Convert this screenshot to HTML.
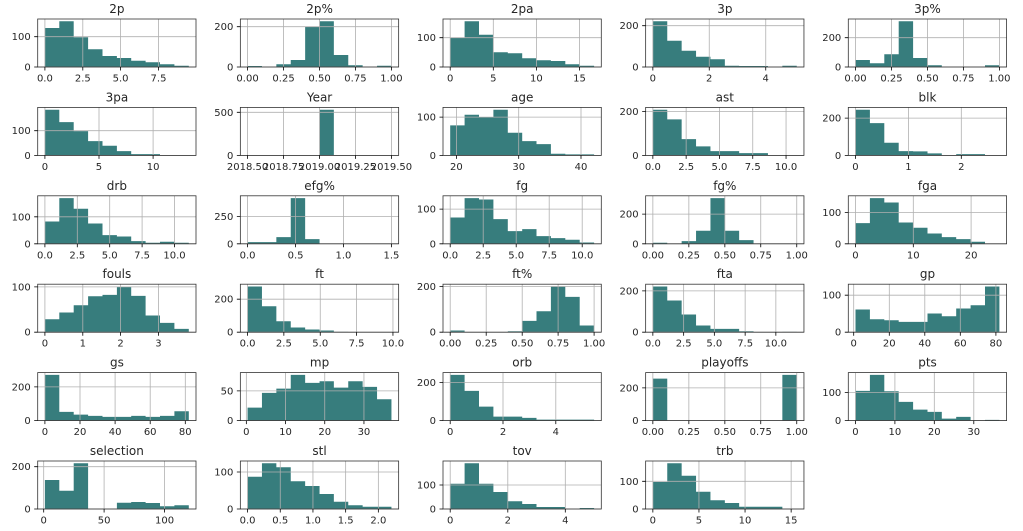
<!DOCTYPE html>
<html><head><meta charset="utf-8"><style>
html,body{margin:0;padding:0;background:#fff}
svg{display:block}
.b{fill:#377d7d}
.g{stroke:#b0b0b0;stroke-width:.8;fill:none}
.s{fill:none;stroke:#333;stroke-width:.8}
.t{stroke:#000;stroke-width:.8;fill:none}
text{font-family:"DejaVu Sans","Liberation Sans",sans-serif;fill:#262626}
.tt{font-size:12px;text-anchor:middle}
.xl{font-size:10px;text-anchor:middle}
.yl{font-size:10px;text-anchor:end}
</style></head><body>
<svg width="1023" height="531" viewBox="0 0 1023 531" xmlns="http://www.w3.org/2000/svg">
<rect width="1023" height="531" fill="#fff"/>

<!-- Row 0 -->
<g transform="translate(37.7,19)">
<path class="b" d="M7.2 48V9H21.6V2.3H36V18.3H50.4V30.3H64.8V37H79.2V39H93.5V41.7H107.9V43.3H122.3V45.3H136.7V46.7H151.1V48Z"/>
<path class="g" d="M7.2 0V48M45.1 0V48M82.9 0V48M120.8 0V48M0 48H158.3M0 17.7H158.3"/>
<rect class="s" width="158.3" height="48"/>
<path class="t" d="M7.2 48v3.5M45.1 48v3.5M82.9 48v3.5M120.8 48v3.5M0 48h-3.5M0 17.7h-3.5"/>
<text class="tt" x="79.2" y="-6">2p</text>
<text class="xl" y="62.5"><tspan x="7.2">0.0</tspan><tspan x="45.1">2.5</tspan><tspan x="82.9">5.0</tspan><tspan x="120.8">7.5</tspan></text>
<text class="yl"><tspan x="-7" y="51.5">0</tspan><tspan x="-7" y="21.2">100</tspan></text>
</g>

<g transform="translate(240.35,19)">
<path class="b" d="M7.2 48V47H21.6V48H36V45.3H50.4V41H64.8V8H79.2V2.3H93.5V36H107.9V46.3H122.3V48H136.7V46.7H151.1V48Z"/>
<path class="g" d="M7.2 0V48M43.2 0V48M79.2 0V48M115.1 0V48M151.1 0V48M0 48H158.3M0 7.7H158.3"/>
<rect class="s" width="158.3" height="48"/>
<path class="t" d="M7.2 48v3.5M43.2 48v3.5M79.2 48v3.5M115.1 48v3.5M151.1 48v3.5M0 48h-3.5M0 7.7h-3.5"/>
<text class="tt" x="79.2" y="-6">2p%</text>
<text class="xl" y="62.5"><tspan x="7.2">0.00</tspan><tspan x="43.2">0.25</tspan><tspan x="79.2">0.50</tspan><tspan x="115.1">0.75</tspan><tspan x="151.1">1.00</tspan></text>
<text class="yl"><tspan x="-7" y="51.5">0</tspan><tspan x="-7" y="11.2">200</tspan></text>
</g>

<g transform="translate(443,19)">
<path class="b" d="M7.2 48V18.7H21.6V2.3H36V15.7H50.4V33.3H64.8V34.3H79.2V39.3H93.5V41.3H107.9V42H122.3V45.3H136.7V46.7H151.1V48Z"/>
<path class="g" d="M7.2 0V48M50.3 0V48M93.4 0V48M136.5 0V48M0 48H158.3M0 18.7H158.3"/>
<rect class="s" width="158.3" height="48"/>
<path class="t" d="M7.2 48v3.5M50.3 48v3.5M93.4 48v3.5M136.5 48v3.5M0 48h-3.5M0 18.7h-3.5"/>
<text class="tt" x="79.2" y="-6">2pa</text>
<text class="xl" y="62.5"><tspan x="7.2">0</tspan><tspan x="50.3">5</tspan><tspan x="93.4">10</tspan><tspan x="136.5">15</tspan></text>
<text class="yl"><tspan x="-7" y="51.5">0</tspan><tspan x="-7" y="22.2">100</tspan></text>
</g>

<g transform="translate(645.65,19)">
<path class="b" d="M7.2 48V2.3H21.6V21.7H36V31.7H50.4V37.7H64.8V40.3H79.2V46.7H93.5V47H107.9V47H122.3V48H136.7V46.7H151.1V48Z"/>
<path class="g" d="M7.2 0V48M63.6 0V48M120.1 0V48M0 48H158.3M0 6.7H158.3"/>
<rect class="s" width="158.3" height="48"/>
<path class="t" d="M7.2 48v3.5M63.6 48v3.5M120.1 48v3.5M0 48h-3.5M0 6.7h-3.5"/>
<text class="tt" x="79.2" y="-6">3p</text>
<text class="xl" y="62.5"><tspan x="7.2">0</tspan><tspan x="63.6">2</tspan><tspan x="120.1">4</tspan></text>
<text class="yl"><tspan x="-7" y="51.5">0</tspan><tspan x="-7" y="10.2">200</tspan></text>
</g>

<g transform="translate(848.3,19)">
<path class="b" d="M7.2 48V41H21.6V44.3H36V35.3H50.4V2.3H64.8V39H79.2V46.3H93.5V48H107.9V48H122.3V48H136.7V46.3H151.1V48Z"/>
<path class="g" d="M7.2 0V48M43.2 0V48M79.2 0V48M115.1 0V48M151.1 0V48M0 48H158.3M0 18.7H158.3"/>
<rect class="s" width="158.3" height="48"/>
<path class="t" d="M7.2 48v3.5M43.2 48v3.5M79.2 48v3.5M115.1 48v3.5M151.1 48v3.5M0 48h-3.5M0 18.7h-3.5"/>
<text class="tt" x="79.2" y="-6">3p%</text>
<text class="xl" y="62.5"><tspan x="7.2">0.00</tspan><tspan x="43.2">0.25</tspan><tspan x="79.2">0.50</tspan><tspan x="115.1">0.75</tspan><tspan x="151.1">1.00</tspan></text>
<text class="yl"><tspan x="-7" y="51.5">0</tspan><tspan x="-7" y="22.2">200</tspan></text>
</g>

<!-- Row 1 -->
<g transform="translate(37.7,107.4)">
<path class="b" d="M7.2 48V2.3H21.6V14.7H36V23.7H50.4V33.7H64.8V38.3H79.2V43.7H93.5V46.7H107.9V46.7H122.3V48H136.7V47.7H151.1V48Z"/>
<path class="g" d="M7.2 0V48M61.3 0V48M115.4 0V48M0 48H158.3M0 23.3H158.3"/>
<rect class="s" width="158.3" height="48"/>
<path class="t" d="M7.2 48v3.5M61.3 48v3.5M115.4 48v3.5M0 48h-3.5M0 23.3h-3.5"/>
<text class="tt" x="79.2" y="-6">3pa</text>
<text class="xl" y="62.5"><tspan x="7.2">0</tspan><tspan x="61.3">5</tspan><tspan x="115.4">10</tspan></text>
<text class="yl"><tspan x="-7" y="51.5">0</tspan><tspan x="-7" y="26.8">100</tspan></text>
</g>

<g transform="translate(240.35,107.4)">
<path class="b" d="M79.2 48V2.3H93.5V48Z"/>
<path class="g" d="M7.2 0V48M43.2 0V48M79.2 0V48M115.1 0V48M151.1 0V48M0 48H158.3M0 4.9H158.3"/>
<rect class="s" width="158.3" height="48"/>
<path class="t" d="M7.2 48v3.5M43.2 48v3.5M79.2 48v3.5M115.1 48v3.5M151.1 48v3.5M0 48h-3.5M0 4.9h-3.5"/>
<text class="tt" x="79.2" y="-6">Year</text>
<text class="xl" y="62.5"><tspan x="7.2">2018.50</tspan><tspan x="43.2">2018.75</tspan><tspan x="79.2">2019.00</tspan><tspan x="115.1">2019.25</tspan><tspan x="151.1">2019.50</tspan></text>
<text class="yl"><tspan x="-7" y="51.5">0</tspan><tspan x="-7" y="8.4">500</tspan></text>
</g>

<g transform="translate(443,107.4)">
<path class="b" d="M7.2 48V18H21.6V7.3H36V9.7H50.4V2.3H64.8V25.3H79.2V33.7H93.5V36.7H107.9V46.3H122.3V47H136.7V47H151.1V48Z"/>
<path class="g" d="M13.4 0V48M75.7 0V48M138 0V48M0 48H158.3M0 9.7H158.3"/>
<rect class="s" width="158.3" height="48"/>
<path class="t" d="M13.4 48v3.5M75.7 48v3.5M138 48v3.5M0 48h-3.5M0 9.7h-3.5"/>
<text class="tt" x="79.2" y="-6">age</text>
<text class="xl" y="62.5"><tspan x="13.4">20</tspan><tspan x="75.7">30</tspan><tspan x="138">40</tspan></text>
<text class="yl"><tspan x="-7" y="51.5">0</tspan><tspan x="-7" y="13.2">100</tspan></text>
</g>

<g transform="translate(645.65,107.4)">
<path class="b" d="M7.2 48V2.3H21.6V12H36V31.7H50.4V39H64.8V43.7H79.2V43.7H93.5V45.7H107.9V45.7H122.3V48H136.7V47.7H151.1V48Z"/>
<path class="g" d="M7.2 0V48M40.5 0V48M73.8 0V48M107.1 0V48M140.4 0V48M0 48H158.3M0 4H158.3"/>
<rect class="s" width="158.3" height="48"/>
<path class="t" d="M7.2 48v3.5M40.5 48v3.5M73.8 48v3.5M107.1 48v3.5M140.4 48v3.5M0 48h-3.5M0 4h-3.5"/>
<text class="tt" x="79.2" y="-6">ast</text>
<text class="xl" y="62.5"><tspan x="7.2">0.0</tspan><tspan x="40.5">2.5</tspan><tspan x="73.8">5.0</tspan><tspan x="107.1">7.5</tspan><tspan x="140.4">10.0</tspan></text>
<text class="yl"><tspan x="-7" y="51.5">0</tspan><tspan x="-7" y="7.5">200</tspan></text>
</g>

<g transform="translate(848.3,107.4)">
<path class="b" d="M7.2 48V2.3H21.6V15.7H36V35.3H50.4V43.7H64.8V44H79.2V46H93.5V48H107.9V46.7H122.3V46.7H136.7V48H151.1V48Z"/>
<path class="g" d="M7.2 0V48M60.1 0V48M113 0V48M0 48H158.3M0 10.7H158.3"/>
<rect class="s" width="158.3" height="48"/>
<path class="t" d="M7.2 48v3.5M60.1 48v3.5M113 48v3.5M0 48h-3.5M0 10.7h-3.5"/>
<text class="tt" x="79.2" y="-6">blk</text>
<text class="xl" y="62.5"><tspan x="7.2">0</tspan><tspan x="60.1">1</tspan><tspan x="113">2</tspan></text>
<text class="yl"><tspan x="-7" y="51.5">0</tspan><tspan x="-7" y="14.2">200</tspan></text>
</g>

<!-- Row 2 -->
<g transform="translate(37.7,195.8)">
<path class="b" d="M7.2 48V25.7H21.6V2.3H36V13H50.4V27.7H64.8V39.3H79.2V40.7H93.5V45.3H107.9V47H122.3V46H136.7V47H151.1V48Z"/>
<path class="g" d="M7.2 0V48M39.6 0V48M72 0V48M104.4 0V48M136.8 0V48M0 48H158.3M0 21H158.3"/>
<rect class="s" width="158.3" height="48"/>
<path class="t" d="M7.2 48v3.5M39.6 48v3.5M72 48v3.5M104.4 48v3.5M136.8 48v3.5M0 48h-3.5M0 21h-3.5"/>
<text class="tt" x="79.2" y="-6">drb</text>
<text class="xl" y="62.5"><tspan x="7.2">0.0</tspan><tspan x="39.6">2.5</tspan><tspan x="72">5.0</tspan><tspan x="104.4">7.5</tspan><tspan x="136.8">10.0</tspan></text>
<text class="yl"><tspan x="-7" y="51.5">0</tspan><tspan x="-7" y="24.5">100</tspan></text>
</g>

<g transform="translate(240.35,195.8)">
<path class="b" d="M7.2 48V46.3H21.6V46.3H36V41.3H50.4V2.3H64.8V43.3H79.2V48H93.5V48H107.9V48H122.3V48H136.7V47.7H151.1V48Z"/>
<path class="g" d="M7.2 0V48M55.2 0V48M103.1 0V48M151.1 0V48M0 48H158.3M0 20.7H158.3"/>
<rect class="s" width="158.3" height="48"/>
<path class="t" d="M7.2 48v3.5M55.2 48v3.5M103.1 48v3.5M151.1 48v3.5M0 48h-3.5M0 20.7h-3.5"/>
<text class="tt" x="79.2" y="-6">efg%</text>
<text class="xl" y="62.5"><tspan x="7.2">0.0</tspan><tspan x="55.2">0.5</tspan><tspan x="103.1">1.0</tspan><tspan x="151.1">1.5</tspan></text>
<text class="yl"><tspan x="-7" y="51.5">0</tspan><tspan x="-7" y="24.2">250</tspan></text>
</g>

<g transform="translate(443,195.8)">
<path class="b" d="M7.2 48V21.7H21.6V2.3H36V3.7H50.4V23.3H64.8V35.3H79.2V33.3H93.5V40.3H107.9V42.3H122.3V44H136.7V46.7H151.1V48Z"/>
<path class="g" d="M7.2 0V48M40.2 0V48M73.2 0V48M106.2 0V48M139.2 0V48M0 48H158.3M0 13.3H158.3"/>
<rect class="s" width="158.3" height="48"/>
<path class="t" d="M7.2 48v3.5M40.2 48v3.5M73.2 48v3.5M106.2 48v3.5M139.2 48v3.5M0 48h-3.5M0 13.3h-3.5"/>
<text class="tt" x="79.2" y="-6">fg</text>
<text class="xl" y="62.5"><tspan x="7.2">0.0</tspan><tspan x="40.2">2.5</tspan><tspan x="73.2">5.0</tspan><tspan x="106.2">7.5</tspan><tspan x="139.2">10.0</tspan></text>
<text class="yl"><tspan x="-7" y="51.5">0</tspan><tspan x="-7" y="16.8">100</tspan></text>
</g>

<g transform="translate(645.65,195.8)">
<path class="b" d="M7.2 48V47H21.6V48H36V45.3H50.4V35H64.8V2.3H79.2V35H93.5V44.3H107.9V48H122.3V48H136.7V48H151.1V48Z"/>
<path class="g" d="M7.2 0V48M43.2 0V48M79.2 0V48M115.1 0V48M151.1 0V48M0 48H158.3M0 18.3H158.3"/>
<rect class="s" width="158.3" height="48"/>
<path class="t" d="M7.2 48v3.5M43.2 48v3.5M79.2 48v3.5M115.1 48v3.5M151.1 48v3.5M0 48h-3.5M0 18.3h-3.5"/>
<text class="tt" x="79.2" y="-6">fg%</text>
<text class="xl" y="62.5"><tspan x="7.2">0.00</tspan><tspan x="43.2">0.25</tspan><tspan x="79.2">0.50</tspan><tspan x="115.1">0.75</tspan><tspan x="151.1">1.00</tspan></text>
<text class="yl"><tspan x="-7" y="51.5">0</tspan><tspan x="-7" y="21.8">200</tspan></text>
</g>

<g transform="translate(848.3,195.8)">
<path class="b" d="M7.2 48V27.3H21.6V2.3H36V6.7H50.4V26.7H64.8V32H79.2V37.7H93.5V41.3H107.9V43.3H122.3V46H136.7V48H151.1V48Z"/>
<path class="g" d="M7.2 0V48M65 0V48M122.8 0V48M0 48H158.3M0 16.7H158.3"/>
<rect class="s" width="158.3" height="48"/>
<path class="t" d="M7.2 48v3.5M65 48v3.5M122.8 48v3.5M0 48h-3.5M0 16.7h-3.5"/>
<text class="tt" x="79.2" y="-6">fga</text>
<text class="xl" y="62.5"><tspan x="7.2">0</tspan><tspan x="65">10</tspan><tspan x="122.8">20</tspan></text>
<text class="yl"><tspan x="-7" y="51.5">0</tspan><tspan x="-7" y="20.2">100</tspan></text>
</g>

<!-- Row 3 -->
<g transform="translate(37.7,284.2)">
<path class="b" d="M7.2 48V35H21.6V28.3H36V21H50.4V12H64.8V10.7H79.2V2.3H93.5V11.7H107.9V31.3H122.3V38.7H136.7V44.7H151.1V48Z"/>
<path class="g" d="M7.2 0V48M45.1 0V48M82.9 0V48M120.8 0V48M0 48H158.3M0 2.7H158.3"/>
<rect class="s" width="158.3" height="48"/>
<path class="t" d="M7.2 48v3.5M45.1 48v3.5M82.9 48v3.5M120.8 48v3.5M0 48h-3.5M0 2.7h-3.5"/>
<text class="tt" x="79.2" y="-6">fouls</text>
<text class="xl" y="62.5"><tspan x="7.2">0</tspan><tspan x="45.1">1</tspan><tspan x="82.9">2</tspan><tspan x="120.8">3</tspan></text>
<text class="yl"><tspan x="-7" y="51.5">0</tspan><tspan x="-7" y="6.2">100</tspan></text>
</g>

<g transform="translate(240.35,284.2)">
<path class="b" d="M7.2 48V2.3H21.6V22H36V37H50.4V43.3H64.8V45.3H79.2V46.3H93.5V47.7H107.9V48H122.3V48H136.7V48H151.1V48Z"/>
<path class="g" d="M7.2 0V48M43.5 0V48M79.9 0V48M116.2 0V48M152.6 0V48M0 48H158.3M0 15H158.3"/>
<rect class="s" width="158.3" height="48"/>
<path class="t" d="M7.2 48v3.5M43.5 48v3.5M79.9 48v3.5M116.2 48v3.5M152.6 48v3.5M0 48h-3.5M0 15h-3.5"/>
<text class="tt" x="79.2" y="-6">ft</text>
<text class="xl" y="62.5"><tspan x="7.2">0.0</tspan><tspan x="43.5">2.5</tspan><tspan x="79.9">5.0</tspan><tspan x="116.2">7.5</tspan><tspan x="152.6">10.0</tspan></text>
<text class="yl"><tspan x="-7" y="51.5">0</tspan><tspan x="-7" y="18.5">200</tspan></text>
</g>

<g transform="translate(443,284.2)">
<path class="b" d="M7.2 48V46.3H21.6V48H36V48H50.4V48H64.8V47H79.2V36.7H93.5V27H107.9V2.3H122.3V12.7H136.7V41.3H151.1V48Z"/>
<path class="g" d="M7.2 0V48M43.2 0V48M79.2 0V48M115.1 0V48M151.1 0V48M0 48H158.3M0 2.3H158.3"/>
<rect class="s" width="158.3" height="48"/>
<path class="t" d="M7.2 48v3.5M43.2 48v3.5M79.2 48v3.5M115.1 48v3.5M151.1 48v3.5M0 48h-3.5M0 2.3h-3.5"/>
<text class="tt" x="79.2" y="-6">ft%</text>
<text class="xl" y="62.5"><tspan x="7.2">0.00</tspan><tspan x="43.2">0.25</tspan><tspan x="79.2">0.50</tspan><tspan x="115.1">0.75</tspan><tspan x="151.1">1.00</tspan></text>
<text class="yl"><tspan x="-7" y="51.5">0</tspan><tspan x="-7" y="5.8">200</tspan></text>
</g>

<g transform="translate(645.65,284.2)">
<path class="b" d="M7.2 48V2.3H21.6V16.3H36V30.3H50.4V41.3H64.8V44.7H79.2V44.7H93.5V47H107.9V48H122.3V48H136.7V47.7H151.1V48Z"/>
<path class="g" d="M7.2 0V48M38 0V48M68.7 0V48M99.5 0V48M130.2 0V48M0 48H158.3M0 6.7H158.3"/>
<rect class="s" width="158.3" height="48"/>
<path class="t" d="M7.2 48v3.5M38 48v3.5M68.7 48v3.5M99.5 48v3.5M130.2 48v3.5M0 48h-3.5M0 6.7h-3.5"/>
<text class="tt" x="79.2" y="-6">fta</text>
<text class="xl" y="62.5"><tspan x="7.2">0.0</tspan><tspan x="38">2.5</tspan><tspan x="68.7">5.0</tspan><tspan x="99.5">7.5</tspan><tspan x="130.2">10.0</tspan></text>
<text class="yl"><tspan x="-7" y="51.5">0</tspan><tspan x="-7" y="10.2">200</tspan></text>
</g>

<g transform="translate(848.3,284.2)">
<path class="b" d="M7.2 48V25.3H21.6V35H36V36H50.4V37.7H64.8V37.7H79.2V29.3H93.5V32H107.9V24.3H122.3V21H136.7V2.3H151.1V48Z"/>
<path class="g" d="M5.4 0V48M41 0V48M76.5 0V48M112 0V48M147.6 0V48M0 48H158.3M0 11H158.3"/>
<rect class="s" width="158.3" height="48"/>
<path class="t" d="M5.4 48v3.5M41 48v3.5M76.5 48v3.5M112 48v3.5M147.6 48v3.5M0 48h-3.5M0 11h-3.5"/>
<text class="tt" x="79.2" y="-6">gp</text>
<text class="xl" y="62.5"><tspan x="5.4">0</tspan><tspan x="41">20</tspan><tspan x="76.5">40</tspan><tspan x="112">60</tspan><tspan x="147.6">80</tspan></text>
<text class="yl"><tspan x="-7" y="51.5">0</tspan><tspan x="-7" y="14.5">100</tspan></text>
</g>

<!-- Row 4 -->
<g transform="translate(37.7,372.6)">
<path class="b" d="M7.2 48V2.3H21.6V39.3H36V42H50.4V43.3H64.8V44.3H79.2V44.3H93.5V43.3H107.9V44.3H122.3V43.3H136.7V38.7H151.1V48Z"/>
<path class="g" d="M7.2 0V48M42.3 0V48M77.4 0V48M112.5 0V48M147.6 0V48M0 48H158.3M0 14.3H158.3"/>
<rect class="s" width="158.3" height="48"/>
<path class="t" d="M7.2 48v3.5M42.3 48v3.5M77.4 48v3.5M112.5 48v3.5M147.6 48v3.5M0 48h-3.5M0 14.3h-3.5"/>
<text class="tt" x="79.2" y="-6">gs</text>
<text class="xl" y="62.5"><tspan x="7.2">0</tspan><tspan x="42.3">20</tspan><tspan x="77.4">40</tspan><tspan x="112.5">60</tspan><tspan x="147.6">80</tspan></text>
<text class="yl"><tspan x="-7" y="51.5">0</tspan><tspan x="-7" y="17.8">200</tspan></text>
</g>

<g transform="translate(240.35,372.6)">
<path class="b" d="M7.2 48V35H21.6V20.3H36V16H50.4V2.3H64.8V10.3H79.2V8.7H93.5V15H107.9V8.7H122.3V14.3H136.7V26.7H151.1V48Z"/>
<path class="g" d="M6 0V48M45.2 0V48M84.4 0V48M123.6 0V48M0 48H158.3M0 18.3H158.3"/>
<rect class="s" width="158.3" height="48"/>
<path class="t" d="M6 48v3.5M45.2 48v3.5M84.4 48v3.5M123.6 48v3.5M0 48h-3.5M0 18.3h-3.5"/>
<text class="tt" x="79.2" y="-6">mp</text>
<text class="xl" y="62.5"><tspan x="6">0</tspan><tspan x="45.2">10</tspan><tspan x="84.4">20</tspan><tspan x="123.6">30</tspan></text>
<text class="yl"><tspan x="-7" y="51.5">0</tspan><tspan x="-7" y="21.8">50</tspan></text>
</g>

<g transform="translate(443,372.6)">
<path class="b" d="M7.2 48V2.3H21.6V18.3H36V34H50.4V44H64.8V44H79.2V45.3H93.5V47H107.9V47H122.3V47H136.7V47H151.1V48Z"/>
<path class="g" d="M7.2 0V48M60 0V48M112.8 0V48M0 48H158.3M0 10H158.3"/>
<rect class="s" width="158.3" height="48"/>
<path class="t" d="M7.2 48v3.5M60 48v3.5M112.8 48v3.5M0 48h-3.5M0 10h-3.5"/>
<text class="tt" x="79.2" y="-6">orb</text>
<text class="xl" y="62.5"><tspan x="7.2">0</tspan><tspan x="60">2</tspan><tspan x="112.8">4</tspan></text>
<text class="yl"><tspan x="-7" y="51.5">0</tspan><tspan x="-7" y="13.5">200</tspan></text>
</g>

<g transform="translate(645.65,372.6)">
<path class="b" d="M7.2 48V6H21.6V48ZM136.7 48V2.3H151.1V48Z"/>
<path class="g" d="M7.2 0V48M43.2 0V48M79.2 0V48M115.1 0V48M151.1 0V48M0 48H158.3M0 15.3H158.3"/>
<rect class="s" width="158.3" height="48"/>
<path class="t" d="M7.2 48v3.5M43.2 48v3.5M79.2 48v3.5M115.1 48v3.5M151.1 48v3.5M0 48h-3.5M0 15.3h-3.5"/>
<text class="tt" x="79.2" y="-6">playoffs</text>
<text class="xl" y="62.5"><tspan x="7.2">0.00</tspan><tspan x="43.2">0.25</tspan><tspan x="79.2">0.50</tspan><tspan x="115.1">0.75</tspan><tspan x="151.1">1.00</tspan></text>
<text class="yl"><tspan x="-7" y="51.5">0</tspan><tspan x="-7" y="18.8">200</tspan></text>
</g>

<g transform="translate(848.3,372.6)">
<path class="b" d="M7.2 48V18.3H21.6V2.3H36V18.7H50.4V29.3H64.8V37H79.2V39.3H93.5V46H107.9V44.3H122.3V48H136.7V47.3H151.1V48Z"/>
<path class="g" d="M7.2 0V48M46.6 0V48M86 0V48M125.5 0V48M0 48H158.3M0 20H158.3"/>
<rect class="s" width="158.3" height="48"/>
<path class="t" d="M7.2 48v3.5M46.6 48v3.5M86 48v3.5M125.5 48v3.5M0 48h-3.5M0 20h-3.5"/>
<text class="tt" x="79.2" y="-6">pts</text>
<text class="xl" y="62.5"><tspan x="7.2">0</tspan><tspan x="46.6">10</tspan><tspan x="86">20</tspan><tspan x="125.5">30</tspan></text>
<text class="yl"><tspan x="-7" y="51.5">0</tspan><tspan x="-7" y="23.5">100</tspan></text>
</g>

<!-- Row 5 -->
<g transform="translate(37.7,461)">
<path class="b" d="M7.2 48V19H21.6V29.7H36V2.3H50.4V48H64.8V48H79.2V41.7H93.5V41H107.9V42H122.3V45.3H136.7V44.3H151.1V48Z"/>
<path class="g" d="M6 0V48M66.4 0V48M126.9 0V48M0 48H158.3M0 5.7H158.3"/>
<rect class="s" width="158.3" height="48"/>
<path class="t" d="M6 48v3.5M66.4 48v3.5M126.9 48v3.5M0 48h-3.5M0 5.7h-3.5"/>
<text class="tt" x="79.2" y="-6">selection</text>
<text class="xl" y="62.5"><tspan x="6">0</tspan><tspan x="66.4">50</tspan><tspan x="126.9">100</tspan></text>
<text class="yl"><tspan x="-7" y="51.5">0</tspan><tspan x="-7" y="9.2">200</tspan></text>
</g>

<g transform="translate(240.35,461)">
<path class="b" d="M7.2 48V15.7H21.6V2.3H36V6.3H50.4V20.3H64.8V25H79.2V33H93.5V40.7H107.9V44.3H122.3V45.7H136.7V45.7H151.1V48Z"/>
<path class="g" d="M7.2 0V48M39.9 0V48M72.6 0V48M105.3 0V48M138 0V48M0 48H158.3M0 11H158.3"/>
<rect class="s" width="158.3" height="48"/>
<path class="t" d="M7.2 48v3.5M39.9 48v3.5M72.6 48v3.5M105.3 48v3.5M138 48v3.5M0 48h-3.5M0 11h-3.5"/>
<text class="tt" x="79.2" y="-6">stl</text>
<text class="xl" y="62.5"><tspan x="7.2">0.0</tspan><tspan x="39.9">0.5</tspan><tspan x="72.6">1.0</tspan><tspan x="105.3">1.5</tspan><tspan x="138">2.0</tspan></text>
<text class="yl"><tspan x="-7" y="51.5">0</tspan><tspan x="-7" y="14.5">100</tspan></text>
</g>

<g transform="translate(443,461)">
<path class="b" d="M7.2 48V22.7H21.6V2.3H36V22.7H50.4V31H64.8V40.3H79.2V43H93.5V46H107.9V46H122.3V48H136.7V47H151.1V48Z"/>
<path class="g" d="M7.2 0V48M64.8 0V48M122.3 0V48M0 48H158.3M0 24H158.3"/>
<rect class="s" width="158.3" height="48"/>
<path class="t" d="M7.2 48v3.5M64.8 48v3.5M122.3 48v3.5M0 48h-3.5M0 24h-3.5"/>
<text class="tt" x="79.2" y="-6">tov</text>
<text class="xl" y="62.5"><tspan x="7.2">0</tspan><tspan x="64.8">2</tspan><tspan x="122.3">4</tspan></text>
<text class="yl"><tspan x="-7" y="51.5">0</tspan><tspan x="-7" y="27.5">100</tspan></text>
</g>

<g transform="translate(645.65,461)">
<path class="b" d="M7.2 48V21H21.6V2.3H36V14.7H50.4V30.7H64.8V39.3H79.2V42H93.5V45.7H107.9V45.7H122.3V45.7H136.7V48H151.1V48Z"/>
<path class="g" d="M7.2 0V48M53.3 0V48M99.4 0V48M145.5 0V48M0 48H158.3M0 20.3H158.3"/>
<rect class="s" width="158.3" height="48"/>
<path class="t" d="M7.2 48v3.5M53.3 48v3.5M99.4 48v3.5M145.5 48v3.5M0 48h-3.5M0 20.3h-3.5"/>
<text class="tt" x="79.2" y="-6">trb</text>
<text class="xl" y="62.5"><tspan x="7.2">0</tspan><tspan x="53.3">5</tspan><tspan x="99.4">10</tspan><tspan x="145.5">15</tspan></text>
<text class="yl"><tspan x="-7" y="51.5">0</tspan><tspan x="-7" y="23.8">100</tspan></text>
</g>
</svg>
</body></html>
